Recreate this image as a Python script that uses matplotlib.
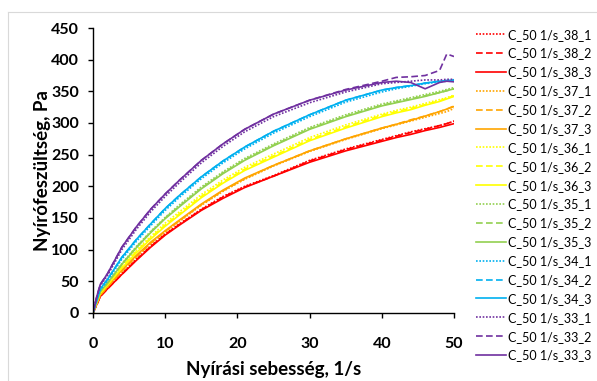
import numpy as np
import matplotlib.pyplot as plt
from matplotlib.lines import Line2D

# shear rate, 1/s
shear_rate = [0, 0.5, 1, 2, 4, 6, 8, 10, 12, 15, 18, 21, 25, 30, 35, 40, 42, 44, 46, 48, 49, 50]

# shear stress, Pa
s38_1 = [0, 13, 27, 39, 62, 85, 106, 125, 141, 164, 184, 200, 217, 241, 259, 274, 280, 286, 291, 296, 299, 303]
s38_2 = [0, 12, 26, 38, 61, 84, 105, 124, 140, 163, 183, 199, 216, 240, 258, 273, 279, 285, 290, 296, 299, 303]
s38_3 = [0, 13, 26, 38, 61, 83, 104, 123, 139, 162, 181, 198, 216, 238, 256, 271, 277, 282, 288, 293, 296, 299]
s37_1 = [0, 14, 28, 41, 66, 89, 110, 128, 145, 170, 192, 211, 232, 255, 274, 291, 297, 303, 309, 315, 318, 323]
s37_2 = [0, 14, 28, 41, 66, 89, 110, 129, 146, 171, 193, 212, 233, 256, 275, 292, 298, 305, 311, 318, 322, 327]
s37_3 = [0, 15, 29, 42, 68, 91, 112, 130, 147, 172, 194, 213, 233, 256, 275, 292, 298, 304, 311, 318, 322, 326]
s36_1 = [0, 17, 33, 46, 75, 99, 121, 142, 160, 187, 210, 230, 251, 277, 297, 314, 320, 325, 331, 337, 340, 344]
s36_2 = [0, 16, 32, 45, 73, 97, 119, 139, 157, 184, 207, 227, 248, 274, 294, 312, 318, 323, 329, 335, 339, 343]
s36_3 = [0, 16, 31, 44, 71, 95, 117, 137, 155, 182, 205, 225, 246, 272, 292, 310, 316, 321, 328, 334, 338, 342]
s35_1 = [0, 18, 34, 48, 78, 105, 129, 151, 171, 199, 223, 244, 267, 293, 313, 330, 335, 340, 345, 350, 353, 356]
s35_2 = [0, 18, 34, 47, 77, 104, 128, 150, 169, 197, 221, 242, 265, 291, 311, 328, 333, 338, 343, 348, 351, 354]
s35_3 = [0, 18, 34, 47, 77, 103, 127, 149, 168, 196, 220, 241, 264, 290, 310, 327, 332, 337, 342, 348, 351, 354]
s34_1 = [0, 19, 36, 51, 85, 113, 138, 162, 183, 212, 237, 259, 284, 310, 333, 349, 354, 358, 362, 365, 366, 367]
s34_2 = [0, 20, 38, 53, 88, 116, 141, 165, 186, 215, 240, 262, 287, 313, 336, 352, 356, 359, 363, 366, 367, 368]
s34_3 = [0, 20, 38, 53, 88, 116, 141, 165, 186, 215, 240, 262, 287, 313, 336, 352, 356, 359, 363, 366, 367, 368]
s33_1 = [0, 24, 43, 59, 100, 132, 160, 184, 206, 237, 263, 286, 310, 332, 349, 362, 364, 366, 368, 368, 369, 369]
s33_2 = [0, 25, 45, 62, 104, 136, 164, 188, 210, 241, 267, 290, 314, 336, 353, 366, 372, 373, 375, 383, 409, 405]
s33_3 = [0, 25, 45, 62, 104, 136, 164, 188, 210, 241, 267, 290, 314, 336, 352, 364, 366, 364, 354, 364, 366, 365]

series = [
    ("C_50 1/s_38_1", s38_1, "#FF0000", "dot"),
    ("C_50 1/s_38_2", s38_2, "#FF0000", "dash"),
    ("C_50 1/s_38_3", s38_3, "#FF0000", "solid"),
    ("C_50 1/s_37_1", s37_1, "#FFA500", "dot"),
    ("C_50 1/s_37_2", s37_2, "#FFA500", "dash"),
    ("C_50 1/s_37_3", s37_3, "#FFA500", "solid"),
    ("C_50 1/s_36_1", s36_1, "#FFFF00", "dot"),
    ("C_50 1/s_36_2", s36_2, "#FFFF00", "dash"),
    ("C_50 1/s_36_3", s36_3, "#FFFF00", "solid"),
    ("C_50 1/s_35_1", s35_1, "#92D050", "dot"),
    ("C_50 1/s_35_2", s35_2, "#92D050", "dash"),
    ("C_50 1/s_35_3", s35_3, "#92D050", "solid"),
    ("C_50 1/s_34_1", s34_1, "#00B0F0", "dot"),
    ("C_50 1/s_34_2", s34_2, "#00B0F0", "dash"),
    ("C_50 1/s_34_3", s34_3, "#00B0F0", "solid"),
    ("C_50 1/s_33_1", s33_1, "#7030A0", "dot"),
    ("C_50 1/s_33_2", s33_2, "#7030A0", "dash"),
    ("C_50 1/s_33_3", s33_3, "#7030A0", "solid"),
]
styles = {"dot": (0, (1, 1)), "dash": (0, (4, 2)), "solid": "-"}

plt.rcParams['font.family'] = ['Lato', 'DejaVu Sans']

fig = plt.figure(figsize=(5.97, 3.81), dpi=100)
ax = fig.add_axes([0.1558, 0.1785, 0.6047, 0.748])

for name, vals, col, st in series:
    ax.plot(shear_rate, vals, color=col, linestyle=styles[st], linewidth=1.2, label=name)

ax.set_xlim(0, 50)
ax.set_ylim(0, 450)
ax.set_xticks(np.arange(0, 51, 10))
ax.set_yticks(np.arange(0, 451, 50))
ax.spines['top'].set_visible(False)
ax.spines['right'].set_visible(False)
ax.spines['left'].set_linewidth(1.0)
ax.spines['bottom'].set_linewidth(1.0)
ax.tick_params(direction='out', length=3.6, width=1.0, labelsize=11.5)
ax.tick_params(axis='x', pad=14)
ax.tick_params(axis='y', pad=6.5)
for lab in ax.get_xticklabels() + ax.get_yticklabels():
    lab.set_fontweight('bold')

ax.set_xlabel("Nyírási sebesség, 1/s", fontsize=13.5, fontweight='bold', labelpad=7)
ax.set_ylabel("Nyírófeszültség, Pa", fontsize=13.5, fontweight='bold', labelpad=0)

ax.legend(loc='upper left', bbox_to_anchor=(0.797, 0.925), bbox_transform=fig.transFigure,
          frameon=False, fontsize=9, handlelength=2.4, handletextpad=0.15,
          labelspacing=0.55, borderaxespad=0, borderpad=0)

# light chart-area border
fig.add_artist(Line2D([8 / 597, 1.0], [1 - 11.5 / 381, 1 - 11.5 / 381], transform=fig.transFigure,
                      color='#D9D9D9', linewidth=0.8))
fig.add_artist(Line2D([8 / 597, 8 / 597], [0, 1 - 11.5 / 381], transform=fig.transFigure,
                      color='#D9D9D9', linewidth=0.8))

fig.savefig("out.png", dpi=100)
